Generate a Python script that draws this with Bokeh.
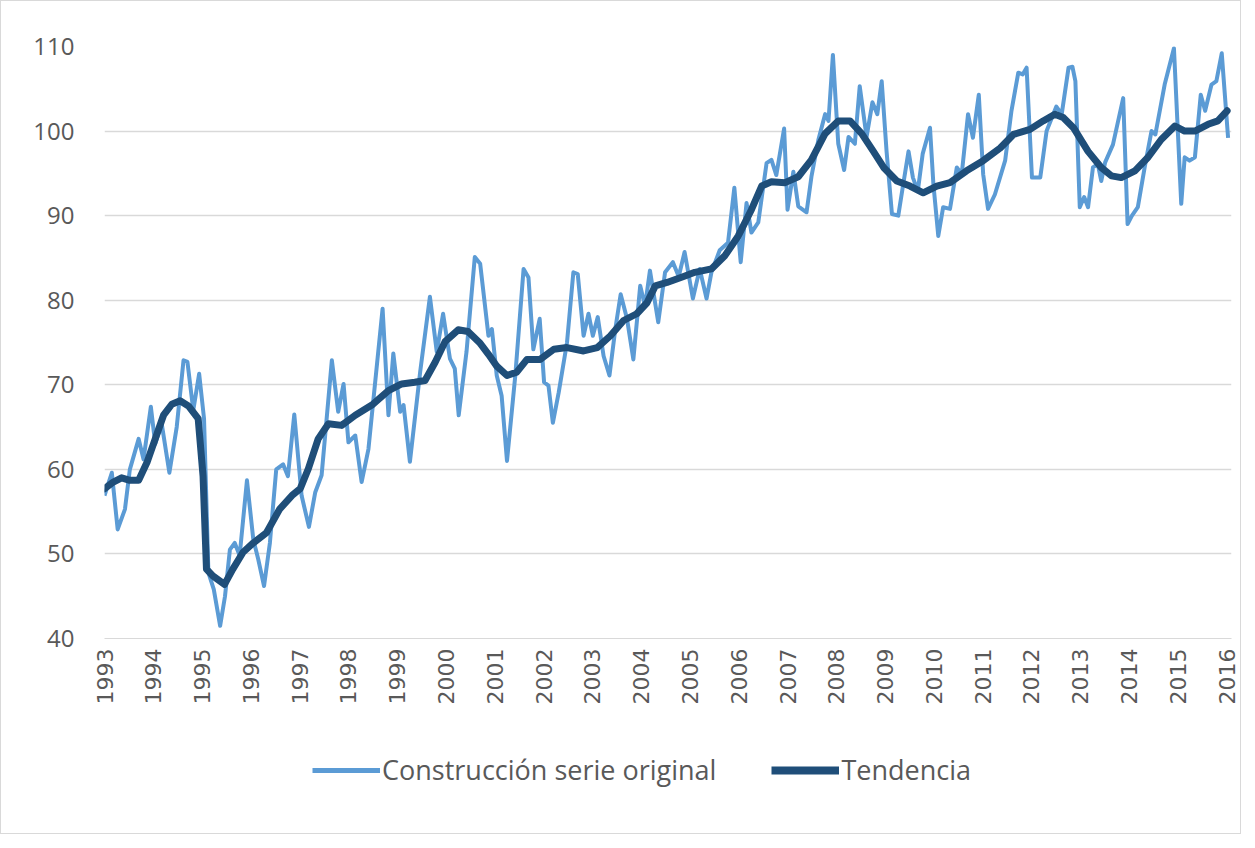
from bokeh.plotting import figure
from bokeh.models import Legend, LegendItem, Range1d, FixedTicker, ColumnDataSource
from bokeh.layouts import column
from bokeh.embed import file_html
from bokeh.resources import INLINE
import math

# ---- Data (decimal years, index values) ----
orig_dates = [
    1993.00, 1993.15, 1993.27, 1993.42, 1993.52, 1993.70, 1993.80, 1993.95,
    1994.04, 1994.17, 1994.33, 1994.48, 1994.62, 1994.70, 1994.82, 1994.94,
    1995.04, 1995.13, 1995.24, 1995.37, 1995.47, 1995.57, 1995.67, 1995.77, 1995.92,
    1996.05, 1996.15, 1996.27, 1996.39, 1996.52, 1996.66, 1996.76, 1996.89,
    1997.04, 1997.19, 1997.32, 1997.45, 1997.66, 1997.79, 1997.90,
    1998.00, 1998.14, 1998.27, 1998.41, 1998.70, 1998.82, 1998.92,
    1999.06, 1999.13, 1999.26, 1999.47, 1999.67, 1999.81, 1999.94,
    2000.08, 2000.18, 2000.26, 2000.42, 2000.59, 2000.70, 2000.87, 2000.94,
    2001.04, 2001.14, 2001.25, 2001.42, 2001.59, 2001.69, 2001.79, 2001.92,
    2002.01, 2002.10, 2002.19, 2002.31, 2002.48, 2002.61, 2002.70, 2002.82, 2002.92,
    2003.01, 2003.11, 2003.23, 2003.35, 2003.47, 2003.58, 2003.71, 2003.84, 2003.98,
    2004.08, 2004.18, 2004.35, 2004.49, 2004.65, 2004.77, 2004.89,
    2005.06, 2005.20, 2005.34, 2005.44, 2005.61, 2005.78, 2005.91,
    2006.04, 2006.16, 2006.26, 2006.40, 2006.57, 2006.67, 2006.77, 2006.93,
    2007.00, 2007.12, 2007.22, 2007.39, 2007.49, 2007.63, 2007.77, 2007.84, 2007.93,
    2008.04, 2008.16, 2008.25, 2008.38, 2008.48, 2008.62, 2008.74, 2008.84, 2008.93,
    2009.03, 2009.14, 2009.27, 2009.36, 2009.48, 2009.57, 2009.67, 2009.77, 2009.92, 2009.99,
    2010.09, 2010.19, 2010.33, 2010.47, 2010.57, 2010.70, 2010.80, 2010.92,
    2011.01, 2011.11, 2011.25, 2011.46, 2011.59, 2011.73, 2011.82, 2011.90,
    2012.01, 2012.18, 2012.31, 2012.51, 2012.62, 2012.76, 2012.84, 2012.90, 2012.99,
    2013.08, 2013.16, 2013.26, 2013.36, 2013.43, 2013.51, 2013.67, 2013.88, 2013.97,
    2014.06, 2014.18, 2014.32, 2014.46, 2014.54, 2014.73, 2014.92,
    2015.07, 2015.14, 2015.24, 2015.35, 2015.47, 2015.56, 2015.69, 2015.79, 2015.90,
    2016.03,
]
orig_values = [
    56.9, 59.6, 52.9, 55.3, 60.0, 63.6, 61.2, 67.4,
    63.0, 65.5, 59.6, 65.0, 72.9, 72.7, 67.0, 71.3,
    66.0, 47.8, 45.8, 41.5, 45.0, 50.5, 51.3, 49.8, 58.7,
    51.7, 49.4, 46.2, 51.3, 60.0, 60.6, 59.2, 66.5,
    56.9, 53.2, 57.3, 59.3, 72.9, 66.8, 70.1,
    63.2, 64.0, 58.5, 62.4, 79.0, 66.4, 73.7,
    66.8, 67.6, 60.9, 71.5, 80.4, 73.9, 78.4,
    73.1, 71.9, 66.4, 73.9, 85.1, 84.3, 75.8, 76.6,
    71.1, 68.7, 61.0, 71.1, 83.7, 82.7, 74.2, 77.8,
    70.3, 69.9, 65.5, 69.1, 75.0, 83.3, 83.1, 75.8, 78.4,
    75.8, 78.0, 73.4, 71.1, 76.6, 80.7, 77.8, 73.0, 81.7,
    79.3, 83.5, 77.4, 83.3, 84.5, 82.8, 85.7,
    80.2, 83.7, 80.2, 83.3, 85.9, 86.8, 93.3,
    84.5, 91.5, 88.0, 89.2, 96.2, 96.6, 94.8, 100.3,
    90.7, 95.2, 91.1, 90.4, 94.6, 98.9, 102.0, 101.2, 109.0,
    98.5, 95.4, 99.3, 98.5, 105.3, 99.3, 103.4, 102.0, 105.9,
    97.6, 90.2, 90.0, 93.3, 97.6, 94.5, 92.9, 97.3, 100.4, 93.7,
    87.6, 91.0, 90.8, 95.7, 94.9, 102.0, 99.2, 104.3,
    94.9, 90.8, 92.5, 96.5, 102.4, 106.9, 106.7, 107.5,
    94.5, 94.5, 100.0, 102.9, 102.0, 107.5, 107.6, 105.9, 91.0,
    92.2, 91.0, 95.7, 96.1, 94.1, 96.3, 98.4, 103.9, 89.0,
    90.0, 91.0, 95.7, 100.0, 99.6, 105.5, 109.8,
    91.4, 96.9, 96.5, 96.9, 104.3, 102.4, 105.5, 105.9, 109.2,
    99.2,
]

trend_dates = [
    1993.00, 1993.18, 1993.35, 1993.52, 1993.70, 1993.87, 1994.04, 1994.21,
    1994.38, 1994.55, 1994.72, 1994.92, 1995.02, 1995.09, 1995.22, 1995.46,
    1995.63, 1995.84, 1996.05, 1996.32, 1996.59, 1996.86, 1997.01, 1997.18,
    1997.38, 1997.59, 1997.86, 1998.14, 1998.48, 1998.82, 1999.09, 1999.36,
    1999.57, 1999.78, 1999.98, 2000.25, 2000.45, 2000.70, 2000.87, 2001.04,
    2001.25, 2001.45, 2001.66, 2001.93, 2002.21, 2002.48, 2002.82, 2003.10,
    2003.37, 2003.64, 2003.91, 2004.12, 2004.29, 2004.53, 2004.87, 2005.10,
    2005.44, 2005.72, 2005.99, 2006.26, 2006.47, 2006.67, 2006.95, 2007.22,
    2007.49, 2007.77, 2008.04, 2008.28, 2008.52, 2008.76, 2008.97, 2009.24,
    2009.51, 2009.78, 2010.06, 2010.33, 2010.67, 2011.01, 2011.36, 2011.63,
    2011.97, 2012.24, 2012.48, 2012.65, 2012.86, 2013.16, 2013.43, 2013.64,
    2013.84, 2014.12, 2014.39, 2014.66, 2014.94, 2015.14, 2015.35, 2015.62,
    2015.82, 2016.01,
]
trend_values = [
    57.7, 58.5, 59.0, 58.7, 58.7, 60.8, 63.6, 66.4,
    67.7, 68.1, 67.5, 66.0, 59.2, 48.2, 47.4, 46.4,
    48.2, 50.2, 51.3, 52.5, 55.3, 57.0, 57.7, 60.1,
    63.6, 65.4, 65.2, 66.4, 67.6, 69.3, 70.1, 70.3,
    70.5, 72.7, 75.1, 76.5, 76.3, 74.9, 73.6, 72.2,
    71.1, 71.5, 73.0, 73.0, 74.2, 74.4, 74.0, 74.4,
    75.8, 77.6, 78.4, 79.7, 81.7, 82.1, 82.8, 83.3,
    83.7, 85.3, 87.6, 90.7, 93.5, 94.0, 93.9, 94.6,
    96.6, 99.7, 101.2, 101.2, 99.7, 97.6, 95.7, 94.1,
    93.5, 92.7, 93.5, 93.9, 95.3, 96.5, 98.0, 99.6,
    100.2, 101.2, 102.0, 101.6, 100.4, 97.6, 95.7, 94.7,
    94.5, 95.3, 96.9, 99.0, 100.6, 100.0, 100.0, 100.8,
    101.2, 102.4,
]

year_ticks = list(range(1993, 2017))
y_ticks = [40, 50, 60, 70, 80, 90, 100, 110]

series_names = ["Construcción serie original", "Tendencia"]
LIGHT = "#5B9BD5"
DARK = "#1F4E79"
TEXT = "#595959"
GRID = "#D9D9D9"

p = figure(frame_width=1127, frame_height=592, output_backend="svg", toolbar_location=None,
           x_range=Range1d(1993, 2016.1), y_range=Range1d(40, 110),
           min_border_left=103, min_border_right=9, min_border_top=45,
           min_border_bottom=72)
p.outline_line_color = None
p.background_fill_color = "white"
p.border_fill_color = "white"

src_o = ColumnDataSource(dict(x=orig_dates, y=orig_values))
src_t = ColumnDataSource(dict(x=trend_dates, y=trend_values))
p.line("x", "y", source=src_o, line_color=LIGHT, line_width=4, line_join="round")
p.line("x", "y", source=src_t, line_color=DARK, line_width=7, line_join="round", line_cap="round")

# axes
p.xaxis.ticker = FixedTicker(ticks=year_ticks)
p.xaxis.major_label_orientation = math.pi / 2
p.xaxis.major_label_text_font = "DejaVu Sans"
p.xaxis.major_label_text_font_size = "22px"
p.xaxis.major_label_text_color = TEXT
p.xaxis.axis_line_color = GRID
p.xaxis.major_tick_line_color = None
p.xaxis.minor_tick_line_color = None
p.xaxis.major_tick_out = 0
p.xaxis.major_tick_in = 0
p.xaxis.major_label_standoff = 10

p.yaxis.ticker = FixedTicker(ticks=y_ticks)
p.yaxis.major_label_text_font = "Open Sans"
p.yaxis.major_label_text_font_size = "24px"
p.yaxis.major_label_text_color = TEXT
p.yaxis.axis_line_color = None
p.yaxis.major_tick_line_color = None
p.yaxis.minor_tick_line_color = None
p.yaxis.major_tick_out = 0
p.yaxis.major_tick_in = 0
p.yaxis.major_label_standoff = 30

p.xgrid.grid_line_color = None
p.ygrid.ticker = FixedTicker(ticks=y_ticks)
p.ygrid.grid_line_color = GRID
p.ygrid.grid_line_width = 1.5

# ---- legend strip (separate figure below the chart) ----
nan = float("nan")
lf = figure(width=1239, height=123, output_backend="svg", toolbar_location=None,
            x_range=Range1d(0, 1), y_range=Range1d(0, 1), min_border=0)
lf.axis.visible = False
lf.grid.visible = False
lf.outline_line_color = None
lf.border_fill_color = "white"
lg_o = lf.line(x=[nan], y=[nan], line_color=LIGHT, line_width=5)
lg_t = lf.line(x=[nan], y=[nan], line_color=DARK, line_width=8)
legend = Legend(items=[LegendItem(label=series_names[0], renderers=[lg_o]),
                       LegendItem(label=series_names[1], renderers=[lg_t])],
                orientation="horizontal", location=(208, 45),
                border_line_color=None, background_fill_alpha=0,
                label_text_font="Open Sans", label_text_font_size="27px",
                label_text_color=TEXT, glyph_width=68, glyph_height=26,
                label_standoff=2, spacing=55, padding=0, margin=0)
lf.add_layout(legend, "center")

layout = column(p, lf, spacing=0)
layout.styles = {"border": "1px solid #D9D9D9"}

open("out.html", "w").write(file_html(layout, INLINE))
